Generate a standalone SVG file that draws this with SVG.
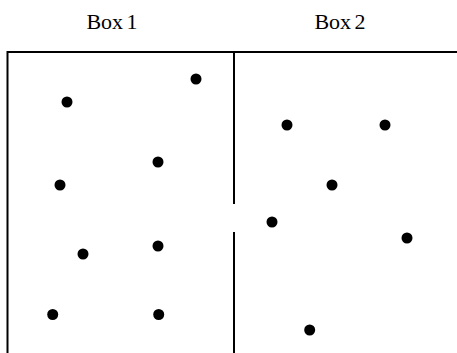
<svg xmlns="http://www.w3.org/2000/svg" width="457" height="353" viewBox="0 0 457 353">
<style>
.lbl{font-family:"Liberation Serif","Times New Roman",serif;font-size:22px;fill:#000;text-anchor:middle;word-spacing:-2px}
.wall{stroke:#000;stroke-width:2;fill:none}
.dot{fill:#000}
</style>
<rect width="457" height="353" fill="#fff"/>
<g id="labels">
<text class="lbl" x="112" y="29">Box 1</text>
<text class="lbl" x="340" y="29">Box 2</text>
</g>
<g id="walls">
<path class="wall" d="M7.5 353 V52 H457"/>
<path class="wall" d="M234 52 V204 M234 232 V353"/>
</g>
<g id="particles">
<circle class="dot" cx="196" cy="79" r="5.5"/>
<circle class="dot" cx="67" cy="102" r="5.5"/>
<circle class="dot" cx="158" cy="162" r="5.5"/>
<circle class="dot" cx="60" cy="185" r="5.5"/>
<circle class="dot" cx="83" cy="254" r="5.5"/>
<circle class="dot" cx="158" cy="246" r="5.5"/>
<circle class="dot" cx="52.7" cy="314.5" r="5.5"/>
<circle class="dot" cx="158.7" cy="314.5" r="5.5"/>
<circle class="dot" cx="287" cy="125" r="5.5"/>
<circle class="dot" cx="385" cy="125" r="5.5"/>
<circle class="dot" cx="332" cy="185" r="5.5"/>
<circle class="dot" cx="272" cy="222" r="5.5"/>
<circle class="dot" cx="407" cy="238" r="5.5"/>
<circle class="dot" cx="309.7" cy="330" r="5.5"/>
</g>
</svg>
